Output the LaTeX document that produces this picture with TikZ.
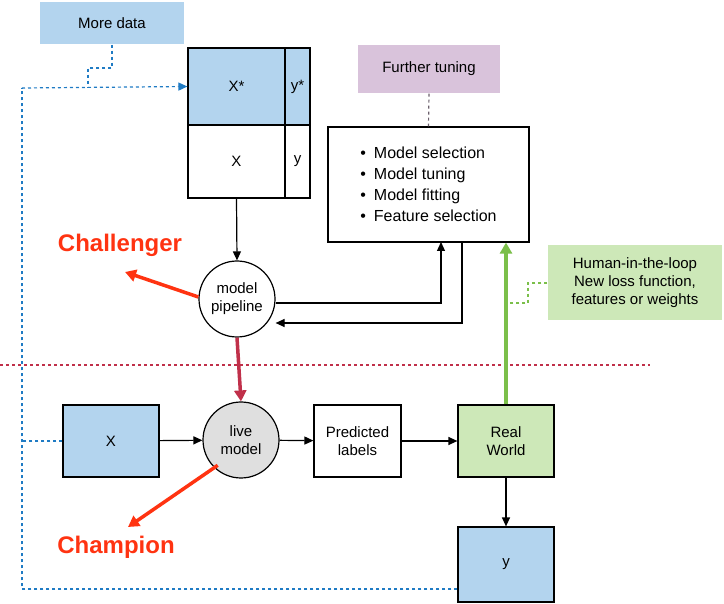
\documentclass[tikz,border=0pt]{standalone}
\usepackage{fontspec}
\setmainfont{Liberation Sans}
\usetikzlibrary{positioning,arrows.meta}
\definecolor{boxblue}{HTML}{B3D4EE}
\definecolor{boxgreen}{HTML}{CDE8B8}
\definecolor{boxpurple}{HTML}{D9C3DB}
\definecolor{lineblue}{HTML}{1F7BC4}
\definecolor{linegreen}{HTML}{7BBF4A}
\definecolor{champred}{HTML}{FF3311}
\definecolor{dashred}{HTML}{C0304A}
\tikzset{
  every picture/.style={line width=1.2pt},
  box/.style={draw, minimum width=96pt, minimum height=72pt, inner sep=2pt, align=center, font=\fontsize{15}{18}\selectfont},
  circ/.style={draw, circle, minimum size=76pt, inner sep=0pt, align=center, font=\fontsize{15}{18}\selectfont},
  note/.style={inner sep=2pt, align=center, font=\fontsize{15}{18}\selectfont},
  arr/.style={-{Triangle[length=9pt,width=8pt]}},
  bigred/.style={champred, line width=3.5pt, -{Triangle[length=11pt,width=12pt]}},
  shout/.style={champred, font=\fontsize{24}{28}\selectfont\bfseries},
}
\begin{document}
\begin{tikzpicture}[x=1pt, y=-1pt]
  \useasboundingbox (0,0) rectangle (724,604);
  % top part
  \node[note, fill=boxblue, minimum width=144pt, minimum height=42pt] (more) at (112,23) {More data};
  \node[draw, fill=boxblue, minimum width=97pt, minimum height=77pt, font=\fontsize{15}{18}\selectfont] (xs) at (236.5,86.5) {X*};
  \node[draw, fill=boxblue, minimum width=25pt, minimum height=77pt, font=\fontsize{15}{18}\selectfont] (ys) at (297.5,86.5) {y*};
  \node[draw, minimum width=97pt, minimum height=73pt, font=\fontsize{15}{18}\selectfont] (xt) at (236.5,161.5) {X};
  \node[draw, minimum width=25pt, minimum height=73pt, font=\fontsize{15}{18}\selectfont] (yt) at (297.5,161.5) {y};
  \node[note, fill=boxpurple, minimum width=142pt, minimum height=48pt] (tune) at (429,69) {Further tuning};
  \node[draw, minimum width=201pt, minimum height=115pt, align=left, font=\fontsize{16}{21}\selectfont] (sel) at (428.5,184.5)
    {\textbullet\enspace Model selection\\ \textbullet\enspace Model tuning\\ \textbullet\enspace Model fitting\\ \textbullet\enspace Feature selection};
  \node[circ] (pipe) at (237,299) {model\\pipeline};
  \node[shout] (chal) at (120,245) {Challenger};
  \node[note, fill=boxgreen, minimum width=174pt, minimum height=75pt] (human) at (635,283) {Human-in-the-loop\\New loss function,\\features or weights};
  % bottom part
  \node[box, fill=boxblue] (x) at (111,441) {X};
  \node[circ, fill=gray!25] (live) at (241,440) {live\\model};
  \node[box, minimum width=87pt] (pred) at (357.5,441) {Predicted\\labels};
  \node[box, fill=boxgreen] (real) at (506,441) {Real\\World};
  \node[box, fill=boxblue, minimum height=75pt] (y) at (506,564.5) {y};
  \node[shout] (champ) at (116,547) {Champion};
  \coordinate (chaltip) at (125,272);
  \coordinate (champtip) at (128,527);
  % connectors
  \draw[dashed, dashred] (0,365) -- (650,365);
  \draw[lineblue, dashed] (more.south) |- (88,68) -- (88,88);
  \draw[lineblue, dashed, arr] (22,88) -- (xs.west);
  \draw[lineblue, dashed] (x.west) -- (22,441);
  \draw[lineblue, dashed] (y.west |- 0,589) -- (22,589) -- (22,88);
  \draw[boxpurple!50!black, dashed] (tune.south) -- (sel.north);
  \draw[arr] (xt.south) -- (pipe.north);
  \draw[arr] (pipe.east |- 0,303) -| (441,242);
  \draw[arr] (462,242) |- (pipe.east |- 0,323);
  \draw[bigred] (pipe.west |- 0,297) -- (chaltip);
  \draw[dashred, line width=3.5pt, -{Triangle[length=11pt,width=12pt]}] (pipe.south) -- (live.north);
  \draw[arr] (x) -- (live);
  \draw[arr] (live) -- (pred);
  \draw[arr] (pred) -- (real);
  \draw[bigred] (live.south west) ++(4,-2) -- (champtip);
  \draw[linegreen, line width=3.5pt, -{Triangle[length=11pt,width=12pt]}] (real.north) -- (sel.south -| real.north);
  \draw[linegreen, dashed] (human.west) -- (528,283) -- (528,303) -- (507,303);
  \draw[arr] (real.south) -- (y.north);
\end{tikzpicture}
\end{document}
